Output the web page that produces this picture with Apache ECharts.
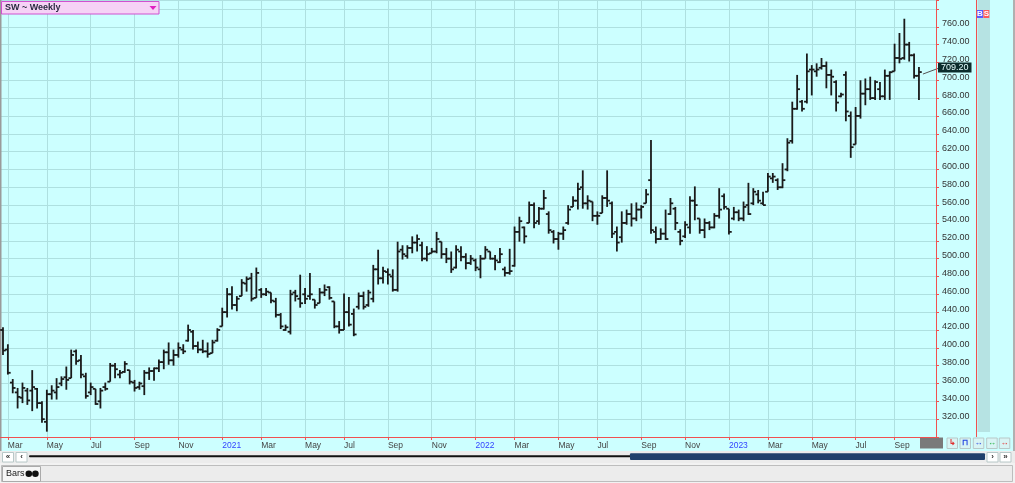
<!DOCTYPE html>
<html><head><meta charset="utf-8">
<script src="https://cdn.jsdelivr.net/npm/echarts@6/dist/echarts.min.js"></script>
<style>html,body{margin:0;padding:0;background:#ccffff;overflow:hidden}#c{width:1015px;height:483px}</style>
</head><body><div id="c"></div>
<script>
// ---- data ----
const title = 'SW ~ Weekly';
const firstBar = '2020-02-28';           // weekly bars, one per week
const opens = [
420,398,361,350,344,352,352,354,338,317, 348,350,360,367,366,396,386,368,350,354,
340,356,362,380,370,373,375,361,356,357, 372,374,377,384,395,386,392,398,408,418,
402,398,396,394,408,424,440,460,448,458, 472,478,456,465,460,462,452,437,420,418,
462,455,460,458,454,450,462,468,452,424, 420,440,438,446,458,448,455,488,478,485,
480,465,510,503,512,518,515,500,506,508, 519,505,500,490,508,502,495,498,488,500,
508,500,496,488,484,492,530,535,540,560, 542,556,550,530,522,528,540,558,565,580,
562,564,548,551,568,562,530,524,540,550, 545,555,562,588,530,522,528,550,556,530,
525,535,565,545,532,540,535,548,570,556, 545,552,545,560,562,572,562,575,590,588,
580,600,632,668,676,676,712,710,714,716, 706,698,682,706,660,628,660,685,690,680,
690,682,705,710,725,725,740,728,705];
const highs = [
423,404,365,355,361,355,375,355,340,353, 358,366,368,379,398,398,392,372,361,354,
355,361,383,383,375,385,375,364,362,375, 378,378,387,398,406,398,406,404,426,420,
407,409,406,409,422,445,467,469,458,477, 480,484,490,467,467,462,456,439,426,465,
465,482,467,484,454,467,471,469,452,430, 461,457,444,462,463,465,493,510,491,489,
488,519,515,515,525,527,519,514,512,530, 519,512,508,515,514,506,504,500,504,514,
508,504,512,491,511,536,547,536,564,563, 558,577,553,532,530,536,560,570,585,599,
571,564,553,571,599,564,536,553,555,562, 563,560,578,633,536,534,555,568,558,533,
542,570,581,545,545,542,551,579,573,556, 558,555,564,585,579,577,575,596,596,590,
607,635,676,706,678,730,717,719,725,721, 712,700,686,710,665,670,700,702,704,700,
698,712,710,741,753,769,743,730,715];
const lows = [
392,370,349,332,338,336,329,332,316,306, 342,342,357,353,366,381,366,343,347,336,
332,352,362,366,366,372,359,351,353,347, 364,363,373,376,381,380,389,393,407,398,
394,394,389,394,407,424,434,443,441,458, 463,452,456,456,458,450,434,421,419,415,
452,445,449,454,444,450,458,454,422,416, 420,424,413,443,443,446,451,471,472,471,
463,463,499,500,506,508,497,497,506,506, 500,495,484,489,497,488,493,486,478,500,
499,487,495,480,482,491,519,517,540,534, 538,555,528,517,510,521,538,558,555,556,
555,542,538,551,558,523,508,518,538,536, 542,545,562,528,517,521,521,549,532,515,
523,528,543,528,523,532,534,545,555,527, 543,542,542,549,560,562,560,575,585,577,
579,598,629,667,665,674,683,704,712,691, 683,665,681,654,613,628,657,672,678,678,
678,678,678,710,719,723,721,702,678];
const closes = [
397,372,355,345,355,341,356,338,320,348, 352,356,365,364,392,385,370,346,356,337,
352,354,380,376,372,382,362,355,360,372, 374,377,384,395,386,392,400,396,420,402,
398,396,393,406,420,440,460,448,455,473, 477,455,484,460,463,453,437,424,423,460,
458,450,455,460,448,462,465,456,424,420, 440,426,415,458,446,462,488,478,486,482,
465,508,505,512,518,522,500,505,508,522, 505,500,488,510,502,495,500,490,500,510,
500,498,505,484,486,530,542,525,560,540, 556,568,532,522,528,532,555,565,578,562,
565,548,548,568,565,528,518,540,550,545, 555,558,572,532,522,528,522,562,540,520,
538,565,560,532,540,535,548,555,558,530, 552,545,558,550,575,565,560,592,592,580,
588,630,668,690,668,710,712,712,716,706, 704,675,684,665,625,660,685,690,680,698,
682,705,709,725,724,740,728,705,709.2];
const xTickDates = ['2020-03-06','2020-05-01','2020-07-03','2020-09-04','2020-11-06',
  '2021-01-08','2021-03-05','2021-05-07','2021-07-02','2021-09-03','2021-11-05',
  '2022-01-07','2022-03-04','2022-05-06','2022-07-01','2022-09-02','2022-11-04',
  '2023-01-06','2023-03-03','2023-05-05','2023-07-07','2023-09-01'];
const monthNames = ['Jan','Feb','Mar','Apr','May','Jun','Jul','Aug','Sep','Oct','Nov','Dec'];
const yMin = 300, yMax = 790, yStep = 20;

// ---- build ----
const DAY = 86400000;
const t0 = Date.parse(firstBar + 'T00:00:00Z');
const data = opens.map((o, i) => [t0 + i * 7 * DAY, o, highs[i], lows[i], closes[i]]);
const xTicks = xTickDates.map(d => Date.parse(d + 'T00:00:00Z'));
const xMin = t0 - 4.3 * DAY, xMax = xMin + 1344.8 * DAY;

const RED = '#f05050', GRID = '#aee0e0';
const chart = echarts.init(document.getElementById('c'), null, {renderer: 'canvas'});
chart.setOption({
  animation: false,
  backgroundColor: '#ccffff',
  grid: {left: 0, right: 79, top: 0, bottom: 46},
  xAxis: {
    type: 'value', min: xMin, max: xMax, scale: true,
    axisLine: {show: true, lineStyle: {color: RED, width: 1}},
    axisTick: {show: true, customValues: xTicks, length: 3, lineStyle: {color: RED}},
    axisLabel: {
      customValues: xTicks, align: 'left', margin: 4,
      color: '#444', fontSize: 8.5, fontFamily: 'Liberation Sans',
      formatter: v => { const d = new Date(v); const m = d.getUTCMonth();
        return m === 0 ? '{y|' + d.getUTCFullYear() + '}' : monthNames[m]; },
      rich: {y: {color: '#3344ff', fontSize: 8.5, fontFamily: 'Liberation Sans'}}
    },
    splitLine: {show: true, lineStyle: {color: GRID, width: 1}}
  },
  yAxis: {
    type: 'value', position: 'right', min: yMin, max: yMax, interval: yStep,
    axisLine: {show: true, lineStyle: {color: RED}},
    axisTick: {show: true, length: 3, lineStyle: {color: RED}},
    axisLabel: {
      margin: 6, color: '#333', fontSize: 9, fontFamily: 'Liberation Sans',
      verticalAlign: 'bottom', lineHeight: 6,
      formatter: v => (v <= yMin || v >= 780) ? '' : v.toFixed(2)
    },
    splitLine: {show: true, lineStyle: {color: GRID, width: 1}}
  },
  series: [{
    type: 'custom', data: data, encode: {x: 0, y: [1, 2, 3, 4]}, clip: true,
    renderItem: (params, api) => {
      const t = api.value(0);
      const pO = api.coord([t, api.value(1)]), pH = api.coord([t, api.value(2)]);
      const pL = api.coord([t, api.value(3)]), pC = api.coord([t, api.value(4)]);
      const x = pH[0];
      const st = {stroke: '#1a1a1a', lineWidth: 1.8};
      return {type: 'group', children: [
        {type: 'line', shape: {x1: x, y1: pH[1], x2: x, y2: pL[1]}, style: st},
        {type: 'line', shape: {x1: x - 2.8, y1: pO[1], x2: x, y2: pO[1]}, style: st},
        {type: 'line', shape: {x1: x, y1: pC[1], x2: x + 2.8, y2: pC[1]}, style: st}
      ]};
    }
  }]
});

// ---- chrome / decorations ----
const last = data[data.length - 1];
const pLast = chart.convertToPixel({gridIndex: 0}, [last[0], last[4]]);
const font = (s, w) => (w || 'normal') + ' ' + s + 'px "Liberation Sans", Arial, sans-serif';
const btn = (x, y, w, h, glyph, col, bg) => ([
  {type: 'rect', shape: {x: x, y: y, width: w, height: h}, style: {fill: bg || '#ffffff', stroke: '#b8c8c8', lineWidth: 1}},
  {type: 'text', x: x + w / 2, y: y + h / 2, style: {text: glyph, fill: col, font: font(8, 'bold'), align: 'center', verticalAlign: 'middle'}}
]);
const els = [
  {type: 'rect', shape: {x: 0, y: 0, width: 1.5, height: 451}, style: {fill: '#9a9a9a'}},
  {type: 'rect', shape: {x: 1.5, y: 1.5, width: 157.5, height: 12.5}, style: {fill: '#f6d2f6', stroke: '#d050d0', lineWidth: 1}},
  {type: 'text', x: 5, y: 8, style: {text: title, fill: '#2a2a40', font: font(9, 'bold'), verticalAlign: 'middle'}},
  {type: 'polygon', shape: {points: [[149.5, 6], [156.5, 6], [153, 10]]}, style: {fill: '#e020c0'}},
  {type: 'rect', shape: {x: 976, y: 0, width: 1, height: 437}, style: {fill: RED}},
  {type: 'rect', shape: {x: 977.5, y: 0, width: 12.5, height: 432}, style: {fill: '#b6e3e3'}},
  {type: 'rect', shape: {x: 977, y: 10, width: 6, height: 8}, style: {fill: '#5a5aff'}},
  {type: 'text', x: 980, y: 14, style: {text: 'B', fill: '#fff', font: font(8, 'bold'), align: 'center', verticalAlign: 'middle'}},
  {type: 'rect', shape: {x: 983.3, y: 10, width: 6, height: 8}, style: {fill: '#ff5a5a'}},
  {type: 'text', x: 986.3, y: 14, style: {text: 'S', fill: '#fff', font: font(8, 'bold'), align: 'center', verticalAlign: 'middle'}},
  {type: 'rect', shape: {x: 1013, y: 0, width: 2, height: 451}, style: {fill: '#b0b0b0'}},
  {type: 'rect', shape: {x: 920, y: 437.5, width: 23, height: 11}, style: {fill: '#7a7a7a'}},
  ...btn(947, 438, 10.5, 10.5, '↳', '#e03030', '#d8f4f4'),
  ...btn(960, 438, 10.5, 10.5, '⊓', '#2040e0', '#d8f4f4'),
  ...btn(973.3, 438, 10.5, 10.5, '↔', '#2040e0', '#d8f4f4'),
  ...btn(986.7, 438, 10.5, 10.5, '↔', '#20b040', '#d8f4f4'),
  ...btn(999.3, 438, 10.5, 10.5, '↔', '#e03030', '#d8f4f4'),
  {type: 'rect', shape: {x: 0, y: 451, width: 1015, height: 12}, style: {fill: '#ececec'}},
  ...btn(2.5, 452.5, 11, 9.5, '«', '#333'),
  ...btn(16, 452.5, 11, 9.5, '‹', '#333'),
  {type: 'rect', shape: {x: 29, y: 455.3, width: 602, height: 2, r: 1}, style: {fill: '#111'}},
  {type: 'rect', shape: {x: 630, y: 453.3, width: 355, height: 6.7, r: 1}, style: {fill: '#20406c'}},
  ...btn(987, 452.5, 11, 9.5, '›', '#333'),
  ...btn(1000, 452.5, 11, 9.5, '»', '#333'),
  {type: 'rect', shape: {x: 0, y: 463, width: 1015, height: 20}, style: {fill: '#f2f2f2'}},
  {type: 'rect', shape: {x: 1.5, y: 465.5, width: 1011, height: 16}, style: {fill: '#ececec', stroke: '#bdbdbd', lineWidth: 1}},
  {type: 'rect', shape: {x: 2.5, y: 466.5, width: 38, height: 15}, style: {fill: '#f6f6f6', stroke: '#aaaaaa', lineWidth: 1}},
  {type: 'text', x: 6, y: 474, style: {text: 'Bars', fill: '#222', font: font(9), verticalAlign: 'middle'}},
  {type: 'circle', shape: {cx: 28.8, cy: 473.8, r: 3.3}, style: {fill: '#111'}},
  {type: 'circle', shape: {cx: 35.4, cy: 473.8, r: 3.3}, style: {fill: '#111'}},
  {type: 'line', shape: {x1: pLast[0] + 4, y1: pLast[1] + 2, x2: 939, y2: pLast[1] - 4}, style: {stroke: '#555', lineWidth: 1}},
  {type: 'rect', shape: {x: 938, y: pLast[1] - 9.5, width: 33.5, height: 10}, style: {fill: '#0c2c2c'}},
  {type: 'text', x: 954.7, y: pLast[1] - 4.3, style: {text: last[4].toFixed(2), fill: '#e6ffff', font: font(9), align: 'center', verticalAlign: 'middle'}}
];
chart.setOption({graphic: {elements: els}});
</script>
</body></html>
